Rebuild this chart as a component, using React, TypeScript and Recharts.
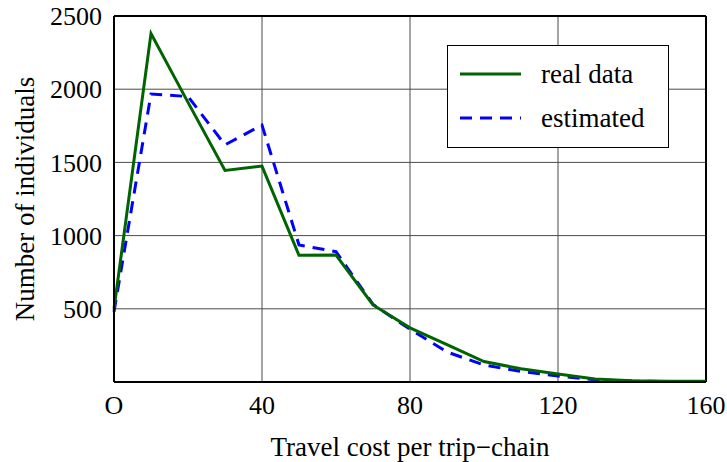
import {
  LineChart,
  Line,
  XAxis,
  YAxis,
  CartesianGrid,
  ReferenceLine,
  Legend,
} from "recharts";

// travel cost bins
const cost = [0, 10, 20, 30, 40, 50, 60, 70, 80, 90, 100, 110, 120, 130, 140, 150, 160];
// observed number of individuals per bin
const realData = [500, 2380, 1910, 1445, 1475, 865, 867, 526, 370, 255, 140, 90, 55, 20, 8, 5, 5];
// model estimate per bin
const estimated = [480, 1967, 1950, 1620, 1755, 936, 890, 530, 360, 205, 116, 72, 41, 15, 6, 3, 3];

const xTicks = [0, 40, 80, 120, 160];
const yTicks = [500, 1000, 1500, 2000, 2500];

const rows = cost.map((c, i) => ({ cost: c, real: realData[i], est: estimated[i] }));

const FONT = "'Liberation Serif', 'DejaVu Serif', serif";

const LegendBox = () => (
  <div
    style={{
      width: 220,
      height: 101,
      border: "1px solid #000",
      background: "#fff",
      fontFamily: FONT,
      fontSize: 27,
      color: "#000",
      boxSizing: "content-box",
    }}
  >
    {[
      { label: "real data", color: "#006400", dash: undefined },
      { label: "estimated", color: "#0000ff", dash: "12 8" },
    ].map((item, i) => (
      <div
        key={item.label}
        style={{ position: "absolute", left: 0, top: 13 + i * 44, height: 32, display: "flex", alignItems: "center" }}
      >
        <svg width={90} height={32} style={{ display: "block" }}>
          <line x1={13} x2={74} y1={16} y2={16} stroke={item.color} strokeWidth={3} strokeDasharray={item.dash} />
        </svg>
        <span style={{ marginLeft: 4, lineHeight: "32px" }}>{item.label}</span>
      </div>
    ))}
  </div>
);

export default function App() {
  return (
    <div style={{ position: "absolute", left: 0, top: 0, background: "#fff" }}>
      <LineChart width={727} height={462} data={rows} margin={{ top: 16, right: 21, left: 0, bottom: 0 }}>
        <CartesianGrid stroke="#4a4a4a" strokeWidth={1} />
        <XAxis
          dataKey="cost"
          type="number"
          domain={[0, 160]}
          ticks={xTicks}
          tickFormatter={(v: number) => (v === 0 ? "O" : String(v))}
          height={80}
          tickLine={false}
          tickMargin={8}
          axisLine={{ stroke: "#000", strokeWidth: 2 }}
          tick={{ fontSize: 26, fill: "#000", fontFamily: FONT }}
          label={{
            value: "Travel cost per trip\u2212chain",
            position: "insideBottom",
            offset: 6,
            style: { fontSize: 27, fill: "#000", fontFamily: FONT },
          }}
        />
        <YAxis
          type="number"
          domain={[0, 2500]}
          ticks={yTicks}
          width={114}
          tickLine={false}
          tickMargin={6}
          axisLine={{ stroke: "#000", strokeWidth: 2 }}
          tick={{ fontSize: 26, fill: "#000", fontFamily: FONT }}
          label={{
            value: "Number of individuals",
            angle: -90,
            position: "center",
            dx: -33,
            style: { fontSize: 27, fill: "#000", fontFamily: FONT, textAnchor: "middle" },
          }}
        />
        <ReferenceLine x={160} stroke="#000" strokeWidth={2} />
        <ReferenceLine y={2500} stroke="#000" strokeWidth={2} />
        <Legend
          layout="vertical"
          align="center"
          verticalAlign="middle"
          content={() => <LegendBox />}
          wrapperStyle={{ left: 447, top: 45, width: 222, height: 103 }}
        />
        <Line
          dataKey="est"
          stroke="#0000ff"
          strokeWidth={3}
          strokeDasharray="12 8"
          dot={false}
          isAnimationActive={false}
        />
        <Line dataKey="real" stroke="#006400" strokeWidth={3} dot={false} isAnimationActive={false} />
      </LineChart>
    </div>
  );
}
